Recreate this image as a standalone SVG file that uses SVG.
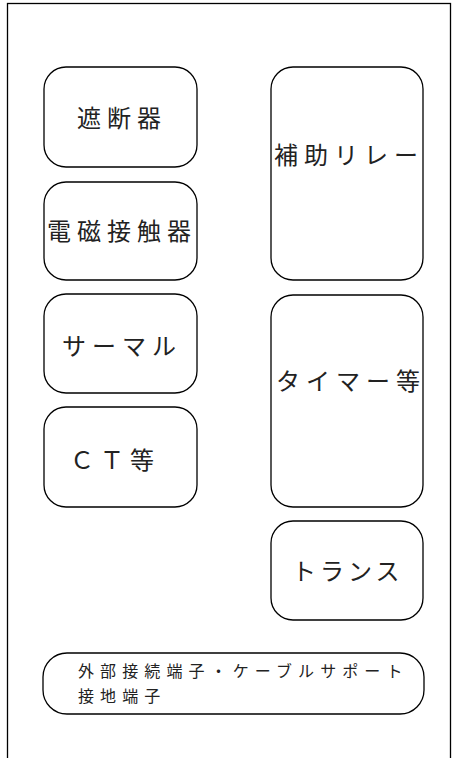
<svg xmlns="http://www.w3.org/2000/svg" width="454" height="758" viewBox="0 0 454 758">
<style>
.box{fill:#fff;stroke:#000;stroke-width:1.3}
.t{font-family:"Noto Sans CJK JP","Noto Sans CJK SC",sans-serif;font-size:24px;fill:#222;letter-spacing:6px}
.s{font-family:"Noto Sans CJK JP","Noto Sans CJK SC",sans-serif;font-size:16px;fill:#222;letter-spacing:6.1px}
</style>
<rect x="7.5" y="3.5" width="443" height="800" fill="#fff" stroke="#000" stroke-width="1.3"/>
<g id="n1"><rect class="box" x="44" y="67" width="153" height="100" rx="22"/><text class="t" x="77" y="127">遮断器</text></g>
<g id="n2"><rect class="box" x="44" y="182" width="153" height="98" rx="22"/><text class="t" x="47" y="240">電磁接触器</text></g>
<g id="n3"><rect class="box" x="44" y="294" width="153" height="99" rx="22"/><text class="t" x="62" y="355">サーマル</text></g>
<g id="n4"><rect class="box" x="44" y="407" width="153" height="100" rx="22"/><text class="t" x="70" y="469">ＣＴ等</text></g>
<g id="n5"><rect class="box" x="271" y="67" width="152" height="213" rx="22"/><text class="t" x="274" y="164">補助リレー</text></g>
<g id="n6"><rect class="box" x="271" y="295" width="152" height="212" rx="22"/><text class="t" x="276" y="390">タイマー等</text></g>
<g id="n7"><rect class="box" x="271" y="521" width="152" height="99" rx="22"/><text class="t" x="292" y="580" style="letter-spacing:4px">トランス</text></g>
<g id="n8"><rect class="box" x="43" y="653" width="381" height="61" rx="24"/><text class="s" x="78" y="677">外部接続端子・ケーブルサポート</text><text class="s" x="78" y="702">接地端子</text></g>
<g id="connectors"></g>
</svg>
